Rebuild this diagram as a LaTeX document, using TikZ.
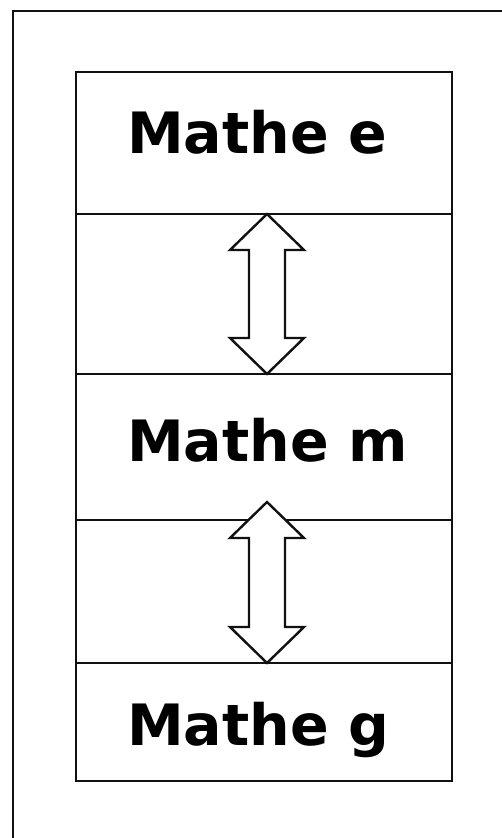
\documentclass[tikz,border=0pt]{standalone}
\usepackage{fontspec}
\setmainfont{DejaVu Sans}
\usepackage{tikz}
\usetikzlibrary{
  arrows.meta,
  positioning,
  calc
}
\definecolor{mLine}{HTML}{111111}
\tikzset{
  mnode/.style={
    draw=mLine, line width=2.4pt, fill=white, inner sep=0pt, outer sep=0pt,
    minimum width=376pt
  },
  mbox/.style={mnode, minimum height=#1},
  mtext/.style={
    anchor=base west, inner sep=0pt,
    font=\fontsize{57}{60}\selectfont\bfseries
  },
  updown/.style={draw=mLine, line width=2.4pt, fill=white, line join=miter},
  frame/.style={draw=mLine, line width=2.4pt}
}

\begin{document}
\begin{tikzpicture}[x=1pt, y=-1pt]
  \useasboundingbox (0,0) rectangle (502,838);
  \clip (0,0) rectangle (502,838);
  % outer frame, runs off the right and bottom edge
  \draw[frame] (13,11) rectangle (530,870);

  % stack of boxes
  \node[mbox=142pt, anchor=north west] (top) at (76,72) {};
  \node[mbox=160pt, below=0pt of top] (gapA) {};
  \node[mbox=146pt, below=0pt of gapA] (mid) {};
  \node[mbox=143pt, below=0pt of mid] (gapB) {};
  \node[mbox=118pt, below=0pt of gapB] (bot) {};

  \node[mtext] (txtE) at ($(top.north west)+(51,81)$) {Mathe e};
  \node[mtext] (txtM) at ($(mid.north west)+(51,87)$) {Mathe m};
  \node[mtext] (txtG) at ($(bot.north west)+(51,82)$) {Mathe g};

  % two-way arrows
  \coordinate (aTop) at ($(gapA.north)+(3,0)$);
  \coordinate (aBot) at ($(gapA.south)+(3,0)$);
  \coordinate (bTop) at ($(gapB.north)+(3,-18)$);
  \coordinate (bBot) at ($(gapB.south)+(3,0)$);
  \foreach \t/\b in {aTop/aBot, bTop/bBot}{
    \draw[updown] (\t) -- ++(37,36) -- ++(-19,0) -- ($(\b)+(18,-36)$)
      -- ++(19,0) -- (\b) -- ++(-37,-36) -- ++(19,0)
      -- ($(\t)+(-18,36)$) -- ++(-19,0) -- cycle;
  }
\end{tikzpicture}
\end{document}
